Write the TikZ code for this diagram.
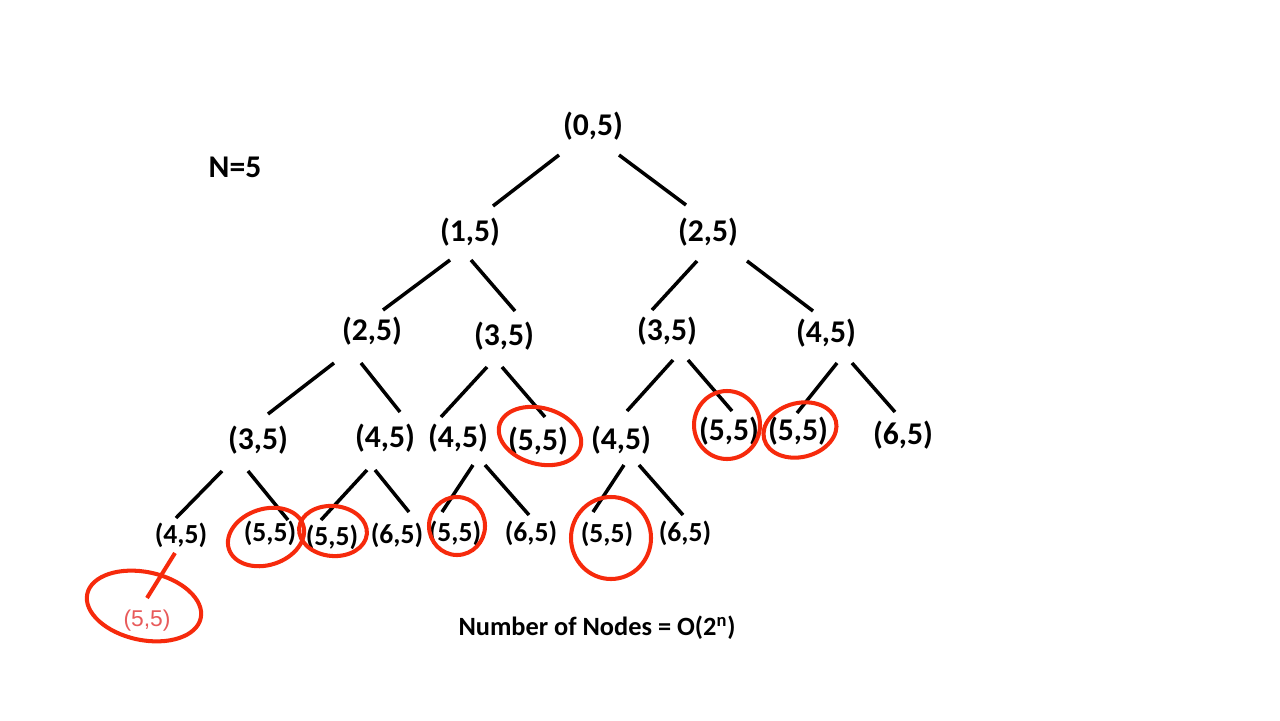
\documentclass[tikz,border=0pt]{standalone}
\usepackage{fontspec}
\setmainfont{Carlito}
\newfontfamily\lsans{Liberation Sans}
\usetikzlibrary{calc}
\definecolor{annot}{RGB}{246,42,12}
\definecolor{pinktext}{RGB}{232,90,90}
\begin{document}
\begin{tikzpicture}[x=0.02cm,y=-0.02cm,
  lbl/.style={font=\fontsize{18}{20}\selectfont\bfseries, inner sep=0pt},
  sml/.style={font=\fontsize{15.7}{18}\selectfont\bfseries, inner sep=0pt},
  edge/.style={line width=2pt, draw=black},
  redge/.style={line width=2.3pt, draw=annot},
  ring/.style={draw=annot, line width=2.3pt}]
\useasboundingbox (0,0) rectangle (1280,720);
% level 0-1
\node[lbl] (n0) at (593,126) {(0,5)};
\node[lbl] (nN) at (235,167) {N=5};
\node[lbl] (n1) at (470,232) {(1,5)};
\node[lbl] (n2) at (708,232) {(2,5)};
% level 2
\node[lbl] (n11) at (372,331) {(2,5)};
\node[lbl] (n12) at (504,336) {(3,5)};
\node[lbl] (n21) at (667,331) {(3,5)};
\node[lbl] (n22) at (826,333) {(4,5)};
% level 3
\node[lbl] (n111) at (258,440) {(3,5)};
\node[lbl] (n112) at (385,438) {(4,5)};
\node[lbl] (n121) at (458,438) {(4,5)};
\node[lbl] (n122) at (538,441) {(5,5)};
\node[lbl] (n211) at (621,440) {(4,5)};
\node[lbl] (n212) at (729,431) {(5,5)};
\node[lbl] (n221) at (798,431) {(5,5)};
\node[lbl] (n222) at (903,435) {(6,5)};
% level 4
\node[sml] (n1111) at (181,535) {(4,5)};
\node[sml] (n1112) at (270,533) {(5,5)};
\node[sml] (n1121) at (332,537) {(5,5)};
\node[sml] (n1122) at (397,535) {(6,5)};
\node[sml] (n1211) at (455,533) {(5,5)};
\node[sml] (n1212) at (531,533) {(6,5)};
\node[sml] (n2111) at (607,534) {(5,5)};
\node[sml] (n2112) at (685,533) {(6,5)};
% level 5
\node[inner sep=0pt, font=\lsans\fontsize{13}{15}\selectfont, text=pinktext] (n11111) at (147,621) {(5,5)};
% caption
\node[inner sep=0pt, font=\fontsize{15}{18}\selectfont\bfseries] (cap) at (597,628) {Number of Nodes = O(2\textsuperscript{n})};
% edges
\draw[edge] ($(n0)+(-34,29)$) -- ($(n1)+(23,-26)$);
\draw[edge] ($(n0)+(26,29)$) -- ($(n2)+(-22,-27)$);
\draw[edge] ($(n1)+(-20,28)$) -- ($(n11)+(11,-21)$);
\draw[edge] ($(n1)+(1,28)$) -- ($(n12)+(11,-25)$);
\draw[edge] ($(n2)+(-11,29)$) -- ($(n21)+(-15,-21)$);
\draw[edge] ($(n2)+(39,29)$) -- ($(n22)+(-13,-22)$);
\draw[edge] ($(n11)+(-38,32)$) -- ($(n111)+(10,-26)$);
\draw[edge] ($(n11)+(-11,32)$) -- ($(n112)+(15,-26)$);
\draw[edge] ($(n12)+(-17,31)$) -- ($(n121)+(-17,-21)$);
\draw[edge] ($(n12)+(-2,31)$) -- ($(n122)+(7,-24)$);
\draw[edge] ($(n21)+(6,29)$) -- ($(n211)+(6,-29)$);
\draw[edge] ($(n21)+(21,29)$) -- ($(n212)+(3,-20)$);
\draw[edge] ($(n22)+(11,30)$) -- ($(n221)+(-1,-18)$);
\draw[edge] ($(n22)+(26,30)$) -- ($(n222)+(-8,-23)$);
\draw[edge] ($(n111)+(-36,31)$) -- ($(n1111)+(-5,-17)$);
\draw[edge] ($(n111)+(-10,31)$) -- ($(n1112)+(18,-13)$);
\draw[edge] ($(n112)+(-18,32)$) -- ($(n1121)+(-11,-17)$);
\draw[edge] ($(n112)+(-10,32)$) -- ($(n1122)+(12,-23)$);
\draw[edge] ($(n121)+(15,27)$) -- ($(n1211)+(-13,-21)$);
\draw[edge] ($(n121)+(27,27)$) -- ($(n1212)+(-2,-18)$);
\draw[edge] ($(n211)+(3,25)$) -- ($(n2111)+(-14,-22)$);
\draw[edge] ($(n211)+(18,25)$) -- ($(n2112)+(-2,-18)$);
\draw[redge] ($(n1111)+(-6,18)$) -- ($(n11111)+(0,-23)$);
% red rings
\draw[ring, rotate around={-12:(144,606)}] (144,606) ellipse [x radius=58, y radius=34];
\draw[ring, rotate around={18:(266,537)}] (266,537) ellipse [x radius=39, y radius=28];
\draw[ring, rotate around={-5:(333,531)}] (333,531) ellipse [x radius=34, y radius=25];
\draw[ring] (457,526) ellipse [x radius=28, y radius=29];
\draw[ring] (611,538) ellipse [x radius=40, y radius=41];
\draw[ring, rotate around={-15:(540,436)}] (540,436) ellipse [x radius=42, y radius=28];
\draw[ring] (727,425) ellipse [x radius=33, y radius=34];
\draw[ring, rotate around={14:(800,430)}] (800,430) ellipse [x radius=37, y radius=27];
\end{tikzpicture}
\end{document}
